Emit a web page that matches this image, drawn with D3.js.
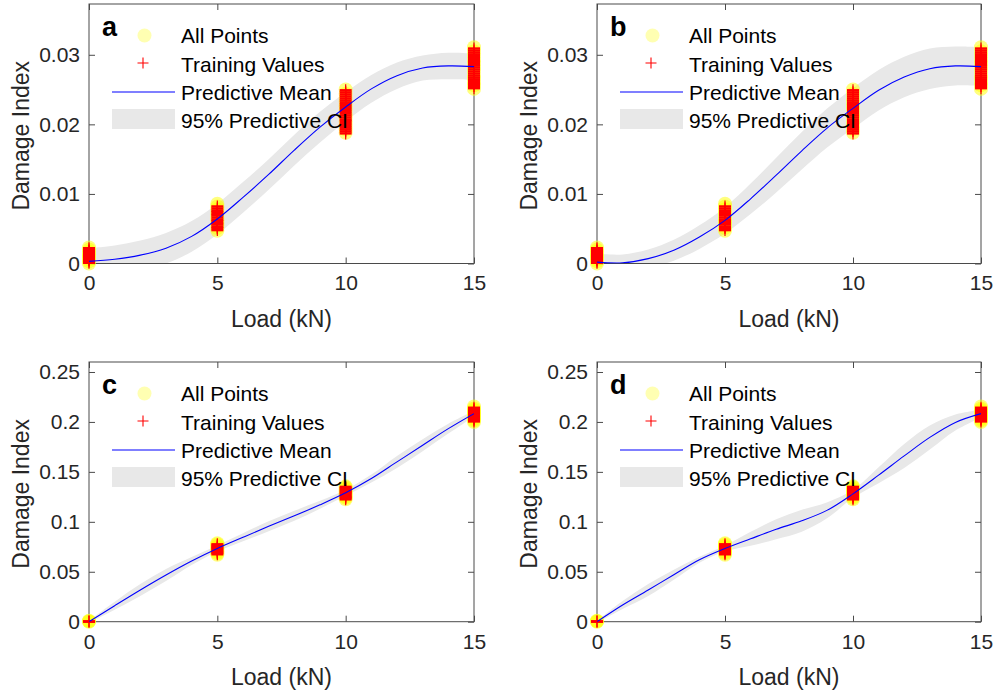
<!DOCTYPE html>
<html>
<head>
<meta charset="utf-8">
<script src="https://cdn.jsdelivr.net/npm/d3@7"></script>
<style>
  html, body { margin: 0; padding: 0; background: #fff; }
  svg { display: block; font-family: "Liberation Sans", Arial, Helvetica, sans-serif; }
</style>
</head>
<body>
<svg id="chart" width="998" height="693"></svg>
<script>
// ---------------- DATA ----------------
const loadLevels = [0, 5, 10, 15];
const gridLoads = [0, 1, 2, 3, 4, 5, 6, 7, 8, 9, 10, 11, 12, 13, 14, 15];

const xTicks = [0, 5, 10, 15];
const yTicksAB = [0, 0.01, 0.02, 0.03];
const yTickLabelsAB = ["0", "0.01", "0.02", "0.03"];
const yTicksCD = [0, 0.05, 0.1, 0.15, 0.2, 0.25];
const yTickLabelsCD = ["0", "0.05", "0.1", "0.15", "0.2", "0.25"];

const legendLabels = ["All Points", "Training Values", "Predictive Mean", "95% Predictive CI"];
const panelLetters = ["a", "b", "c", "d"];
const xAxisTitle = "Load (kN)";
const yAxisTitle = "Damage Index";

// all measured points (panels a, b), one list per load level
const allPointsAB = [
  [0.0000, 0.0003, 0.0006, 0.0009, 0.0011, 0.0014, 0.0017, 0.0020, 0.0023],
  [0.0047, 0.0051, 0.0055, 0.0059, 0.0062, 0.0066, 0.0070, 0.0074, 0.0078, 0.0082, 0.0086],
  [0.0188, 0.0193, 0.0199, 0.0204, 0.0210, 0.0215, 0.0221, 0.0226, 0.0232, 0.0238, 0.0244, 0.0250],
  [0.0251, 0.0256, 0.0261, 0.0266, 0.0271, 0.0277, 0.0282, 0.0288, 0.0293, 0.0299, 0.0305, 0.0311]
];
// training values (panels a, b)
const trainingAB = [
  [0.0001, 0.0003, 0.0005, 0.0007, 0.0009, 0.0010, 0.0012, 0.0014, 0.0016, 0.0018, 0.0020, 0.0022],
  [0.0048, 0.0051, 0.0053, 0.0056, 0.0058, 0.0061, 0.0063, 0.0066, 0.0069, 0.0071, 0.0074, 0.0076, 0.0079, 0.0082],
  [0.0187, 0.0190, 0.0193, 0.0196, 0.0199, 0.0202, 0.0205, 0.0207, 0.0210, 0.0213, 0.0216, 0.0219, 0.0222, 0.0225, 0.0228, 0.0231, 0.0234, 0.0237, 0.0240, 0.0243, 0.0246, 0.0249],
  [0.0252, 0.0255, 0.0258, 0.0261, 0.0264, 0.0267, 0.0270, 0.0273, 0.0276, 0.0279, 0.0282, 0.0285, 0.0288, 0.0291, 0.0294, 0.0297, 0.0300, 0.0303, 0.0306, 0.0309]
];
// all measured points (panels c, d)
const allPointsCD = [
  [0.0000, 0.0005, 0.0010],
  [0.0670, 0.0685, 0.0700, 0.0715, 0.0730, 0.0745, 0.0760, 0.0775, 0.0785],
  [0.1225, 0.1240, 0.1255, 0.1270, 0.1285, 0.1300, 0.1315, 0.1330, 0.1345, 0.1355],
  [0.2000, 0.2015, 0.2030, 0.2045, 0.2060, 0.2075, 0.2090, 0.2105, 0.2120, 0.2135, 0.2155]
];
// training values (panels c, d)
const trainingCD = [
  [0.0000, 0.0004],
  [0.0675, 0.0688, 0.0700, 0.0712, 0.0725, 0.0737, 0.0750, 0.0762, 0.0775],
  [0.1225, 0.1238, 0.1250, 0.1262, 0.1275, 0.1288, 0.1300, 0.1312, 0.1325, 0.1338, 0.1350],
  [0.2005, 0.2018, 0.2030, 0.2042, 0.2055, 0.2068, 0.2080, 0.2092, 0.2105, 0.2118, 0.2130, 0.2142]
];

// predictive means at gridLoads
const meanA = [0.0003, 0.0006, 0.0012, 0.0022, 0.0039, 0.0064, 0.0095, 0.0128, 0.0163, 0.0196, 0.0225, 0.0251, 0.0270, 0.0281, 0.0284, 0.0283];
const meanB = [0.0002, 0.0001, 0.0007, 0.0019, 0.0038, 0.0062, 0.0093, 0.0127, 0.0162, 0.0195, 0.0223, 0.0249, 0.0268, 0.0280, 0.0284, 0.0283];
const meanC = [0.0000, 0.0160, 0.0317, 0.0467, 0.0607, 0.0733, 0.0845, 0.0955, 0.1060, 0.1170, 0.1290, 0.1433, 0.1600, 0.1767, 0.1933, 0.2083];
const meanD = [0.0000, 0.0167, 0.0317, 0.0470, 0.0620, 0.0733, 0.0830, 0.0925, 0.1010, 0.1117, 0.1280, 0.1467, 0.1660, 0.1845, 0.1995, 0.2083];

// half-width of the 95% predictive CI at gridLoads
const ciHalfA = [0.0019, 0.0020, 0.0021, 0.0022, 0.0022, 0.0022, 0.0022, 0.0022, 0.0022, 0.0022, 0.0021, 0.0020, 0.0019, 0.0018, 0.0019, 0.0019];
const ciHalfB = [0.0012, 0.0012, 0.0013, 0.0015, 0.0017, 0.0019, 0.0022, 0.0025, 0.0027, 0.0028, 0.0029, 0.0029, 0.0029, 0.0029, 0.0028, 0.0028];
const ciHalfC = [0.0010, 0.0040, 0.0060, 0.0060, 0.0040, 0.0030, 0.0040, 0.0050, 0.0050, 0.0040, 0.0030, 0.0040, 0.0060, 0.0060, 0.0050, 0.0030];
const ciHalfD = [0.0010, 0.0040, 0.0060, 0.0050, 0.0030, 0.0030, 0.0070, 0.0100, 0.0110, 0.0080, 0.0040, 0.0080, 0.0120, 0.0120, 0.0080, 0.0040];

// ---------------- DRAWING ----------------
const svg = d3.select("#chart");
const FONT_TICK = 21, FONT_LABEL = 23, FONT_LEGEND = 21, FONT_LETTER = 27;
const AXIS_COLOR = "#4a4a4a", TEXT_COLOR = "#262626";

const panels = [
  { letter: panelLetters[0], x0: 89,  x1: 474, y0: 4,   y1: 263.5, ymax: 0.0373, yTicks: yTicksAB, yLabels: yTickLabelsAB, all: allPointsAB, train: trainingAB, mean: meanA, half: ciHalfA },
  { letter: panelLetters[1], x0: 597, x1: 981, y0: 4,   y1: 263.5, ymax: 0.0373, yTicks: yTicksAB, yLabels: yTickLabelsAB, all: allPointsAB, train: trainingAB, mean: meanB, half: ciHalfB },
  { letter: panelLetters[2], x0: 89,  x1: 474, y0: 362, y1: 621.7, ymax: 0.26,   yTicks: yTicksCD, yLabels: yTickLabelsCD, all: allPointsCD, train: trainingCD, mean: meanC, half: ciHalfC },
  { letter: panelLetters[3], x0: 597, x1: 981, y0: 362, y1: 621.7, ymax: 0.26,   yTicks: yTicksCD, yLabels: yTickLabelsCD, all: allPointsCD, train: trainingCD, mean: meanD, half: ciHalfD }
];

const hArm = (x, y, s) => `M${x - s},${y}H${x + s}`;
const vArm = (x, y, s) => `M${x},${y - s}V${y + s}`;

panels.forEach((p, i) => {
  const x = d3.scaleLinear().domain([0, 15]).range([p.x0, p.x1]);
  const y = d3.scaleLinear().domain([0, p.ymax]).range([p.y1, p.y0]);
  const g = svg.append("g");

  const clipId = "clip" + i;
  svg.append("clipPath").attr("id", clipId).append("rect")
    .attr("x", p.x0).attr("y", p.y0).attr("width", p.x1 - p.x0).attr("height", p.y1 - p.y0);

  // CI band
  const bandData = gridLoads.map((L, k) => ({ L, lo: p.mean[k] - p.half[k], hi: p.mean[k] + p.half[k] }));
  const curve = d3.curveCatmullRom.alpha(0.5);
  g.append("path")
    .datum(bandData)
    .attr("clip-path", `url(#${clipId})`)
    .attr("fill", "#e8e8e8")
    .attr("d", d3.area().curve(curve).x(d => x(d.L)).y0(d => y(d.lo)).y1(d => y(d.hi)));

  // axes
  const ax = (axis, tr) => {
    const a = g.append("g").attr("transform", tr).call(axis);
    a.select(".domain").remove();
    a.selectAll(".tick line").attr("stroke", AXIS_COLOR).attr("stroke-width", 1);
    a.selectAll(".tick text").attr("fill", TEXT_COLOR).attr("font-size", FONT_TICK)
      .attr("font-family", '"Liberation Sans", Arial, sans-serif');
    return a;
  };
  ax(d3.axisBottom(x).tickValues(xTicks).tickFormat(d3.format("d")).tickSizeInner(-6).tickSizeOuter(0).tickPadding(12),
     `translate(0,${p.y1})`);
  ax(d3.axisTop(x).tickValues(xTicks).tickFormat("").tickSizeInner(-6).tickSizeOuter(0), `translate(0,${p.y0})`);
  ax(d3.axisLeft(y).tickValues(p.yTicks).tickFormat((d, k) => p.yLabels[k]).tickSizeInner(-6).tickSizeOuter(0).tickPadding(9),
     `translate(${p.x0},0)`);
  ax(d3.axisRight(y).tickValues(p.yTicks).tickFormat("").tickSizeInner(-6).tickSizeOuter(0), `translate(${p.x1},0)`);

  g.append("rect")
    .attr("x", p.x0).attr("y", p.y0).attr("width", p.x1 - p.x0).attr("height", p.y1 - p.y0)
    .attr("fill", "none").attr("stroke", AXIS_COLOR).attr("stroke-width", 1);

  // all points (yellow, translucent)
  const allFlat = [];
  p.all.forEach((vals, k) => vals.forEach(v => allFlat.push({ L: loadLevels[k], v })));
  g.append("g").selectAll("circle").data(allFlat).join("circle")
    .attr("cx", d => x(d.L)).attr("cy", d => y(d.v)).attr("r", 7)
    .attr("fill", "#ffff00").attr("fill-opacity", 0.5);

  // training values (red plus)
  const trFlat = [];
  p.train.forEach((vals, k) => vals.forEach(v => trFlat.push({ L: loadLevels[k], v })));
  const tg = g.append("g").attr("fill", "none").attr("stroke", "#ff0000");
  tg.selectAll("path.h").data(trFlat).join("path").attr("class", "h")
    .attr("d", d => hArm(x(d.L), y(d.v), 6)).attr("stroke-width", 2.4);
  tg.selectAll("path.v").data(trFlat).join("path").attr("class", "v")
    .attr("d", d => vArm(x(d.L), y(d.v), 6)).attr("stroke-width", 1.2);

  // predictive mean
  g.append("path")
    .datum(gridLoads.map((L, k) => ({ L, m: p.mean[k] })))
    .attr("clip-path", `url(#${clipId})`)
    .attr("fill", "none").attr("stroke", "#0000ff").attr("stroke-width", 1.1)
    .attr("d", d3.line().curve(curve).x(d => x(d.L)).y(d => y(d.m)));

  // axis titles
  g.append("text")
    .attr("x", (p.x0 + p.x1) / 2).attr("y", p.y1 + 63)
    .attr("text-anchor", "middle").attr("font-size", FONT_LABEL).attr("fill", TEXT_COLOR)
    .text(xAxisTitle);
  g.append("text")
    .attr("transform", `translate(${p.x0 - 60.5},${(p.y0 + p.y1) / 2 + 2}) rotate(-90)`)
    .attr("text-anchor", "middle").attr("font-size", FONT_LABEL).attr("fill", TEXT_COLOR)
    .text(yAxisTitle);

  // panel letter
  g.append("text")
    .attr("x", p.x0 + 13).attr("y", p.y0 + 32)
    .attr("font-size", FONT_LETTER).attr("font-weight", "bold").attr("fill", "#000")
    .text(p.letter);

  // legend
  const lg = g.append("g").attr("transform", `translate(${p.x0},${p.y0})`);
  lg.append("circle").attr("cx", 55.5).attr("cy", 31.5).attr("r", 7)
    .attr("fill", "#ffff00").attr("fill-opacity", 0.3);
  lg.append("path").attr("d", hArm(54, 59, 5.5) + vArm(54, 59, 5.5))
    .attr("fill", "none").attr("stroke", "#ff0000").attr("stroke-width", 1.1);
  lg.append("line").attr("x1", 23).attr("x2", 86).attr("y1", 88).attr("y2", 88)
    .attr("stroke", "#0000ff").attr("stroke-width", 1.1);
  lg.append("rect").attr("x", 23).attr("y", 105).attr("width", 63).attr("height", 20)
    .attr("fill", "#e8e8e8");
  const baselines = [39.3, 67.6, 95.9, 124.2];
  legendLabels.forEach((t, k) => {
    lg.append("text").attr("x", 92).attr("y", baselines[k])
      .attr("font-size", FONT_LEGEND).attr("fill", "#000").text(t);
  });
});
</script>
</body>
</html>
